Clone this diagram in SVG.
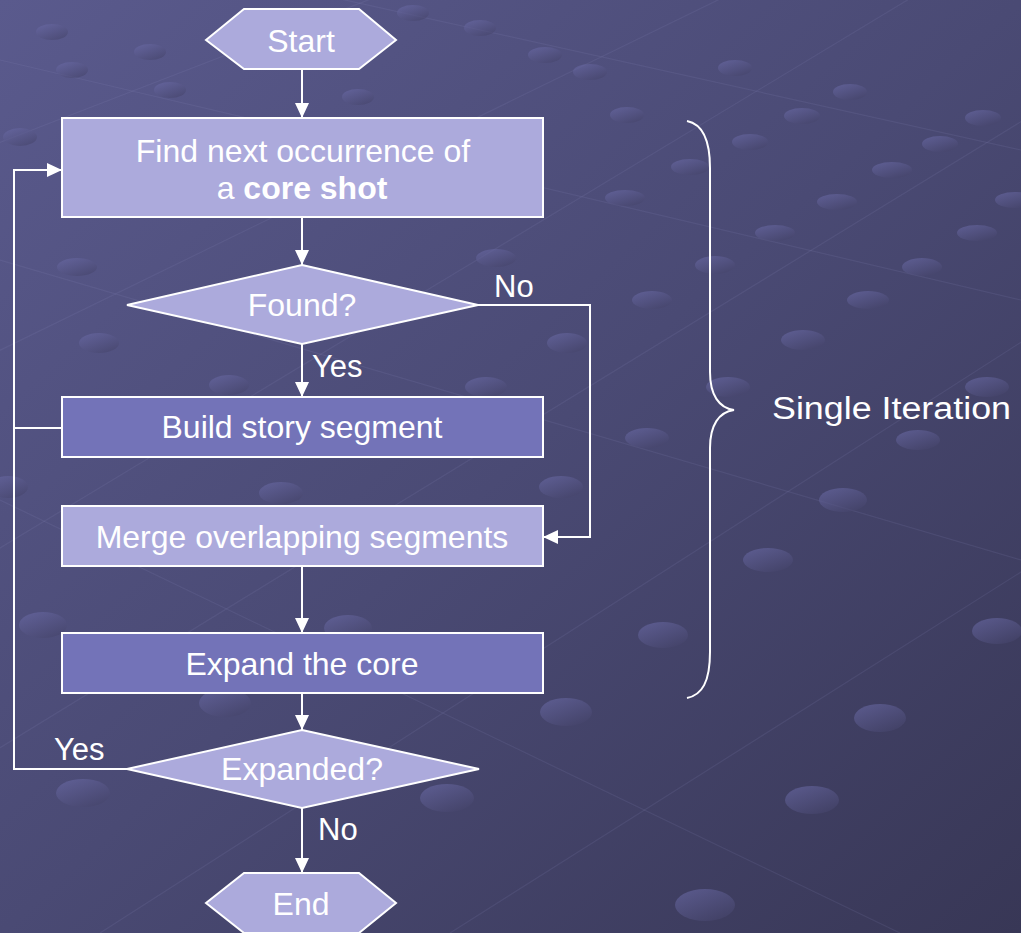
<svg xmlns="http://www.w3.org/2000/svg" width="1021" height="933" viewBox="0 0 1021 933">
<defs>
<linearGradient id="bg" x1="0" y1="0" x2="1" y2="1">
<stop offset="0" stop-color="#5a5a8d"/>
<stop offset="0.5" stop-color="#4a4a74"/>
<stop offset="1" stop-color="#383756"/>
</linearGradient>
<linearGradient id="dot" x1="0" y1="0" x2="0.7" y2="1">
<stop offset="0" stop-color="#6e6eac"/>
<stop offset="1" stop-color="#46456c"/>
</linearGradient>
<marker id="ah" markerUnits="userSpaceOnUse" markerWidth="16" markerHeight="14" refX="15" refY="7" orient="auto">
<path d="M0,0 L15,7 L0,14 z" fill="#ffffff"/>
</marker>
</defs>
<style>
.light{fill:#acaadc;stroke:#ffffff;stroke-width:2}
.dark{fill:#7373b8;stroke:#ffffff;stroke-width:2}
.t{font-family:"Liberation Sans",Arial,sans-serif;font-size:32px;fill:#ffffff;text-anchor:middle}
.lbl{font-family:"Liberation Sans",Arial,sans-serif;font-size:31px;fill:#ffffff}
.c{fill:none;stroke:#ffffff;stroke-width:2}
.d{fill:url(#dot);opacity:0.6}
.g{stroke:#8c8cc0;stroke-width:1.2;opacity:0.14;fill:none}
</style>
<rect x="0" y="0" width="1021" height="933" fill="url(#bg)"/>
<g id="background">
<path class="g" d="M-20,560 L1040,-80"/>
<path class="g" d="M-20,760 L1040,110"/>
<path class="g" d="M100,933 L1040,330"/>
<path class="g" d="M450,933 L1040,560"/>
<path class="g" d="M-20,360 L800,-40"/>
<path class="g" d="M-20,150 L420,-20"/>
<path class="g" d="M0,60 L1021,300"/>
<path class="g" d="M0,260 L1021,560"/>
<path class="g" d="M0,500 L900,933"/>
<path class="g" d="M300,-10 L1021,150"/>
<g>
<ellipse class="d" cx="52" cy="32" rx="16" ry="8"/>
<ellipse class="d" cx="150" cy="52" rx="16" ry="8"/>
<ellipse class="d" cx="72" cy="70" rx="16" ry="8"/>
<ellipse class="d" cx="170" cy="90" rx="16" ry="8"/>
<ellipse class="d" cx="20" cy="137" rx="17" ry="9"/>
<ellipse class="d" cx="358" cy="97" rx="16" ry="8"/>
<ellipse class="d" cx="413" cy="13" rx="16" ry="8"/>
<ellipse class="d" cx="480" cy="28" rx="16" ry="8"/>
<ellipse class="d" cx="545" cy="55" rx="17" ry="8"/>
<ellipse class="d" cx="590" cy="72" rx="17" ry="8"/>
<ellipse class="d" cx="627" cy="115" rx="17" ry="8"/>
<ellipse class="d" cx="735" cy="68" rx="17" ry="8"/>
<ellipse class="d" cx="850" cy="92" rx="17" ry="8"/>
<ellipse class="d" cx="802" cy="116" rx="18" ry="8"/>
<ellipse class="d" cx="983" cy="118" rx="18" ry="8"/>
<ellipse class="d" cx="750" cy="142" rx="18" ry="8"/>
<ellipse class="d" cx="940" cy="144" rx="18" ry="8"/>
<ellipse class="d" cx="690" cy="167" rx="19" ry="8"/>
<ellipse class="d" cx="892" cy="170" rx="20" ry="8"/>
<ellipse class="d" cx="625" cy="198" rx="20" ry="8"/>
<ellipse class="d" cx="837" cy="202" rx="20" ry="8"/>
<ellipse class="d" cx="1015" cy="200" rx="20" ry="8"/>
<ellipse class="d" cx="775" cy="233" rx="20" ry="8"/>
<ellipse class="d" cx="977" cy="233" rx="20" ry="8"/>
<ellipse class="d" cx="715" cy="265" rx="20" ry="9"/>
<ellipse class="d" cx="922" cy="267" rx="20" ry="9"/>
<ellipse class="d" cx="652" cy="300" rx="20" ry="9"/>
<ellipse class="d" cx="868" cy="300" rx="21" ry="9"/>
<ellipse class="d" cx="803" cy="340" rx="22" ry="10"/>
<ellipse class="d" cx="728" cy="387" rx="22" ry="10"/>
<ellipse class="d" cx="987" cy="387" rx="22" ry="10"/>
<ellipse class="d" cx="647" cy="438" rx="22" ry="10"/>
<ellipse class="d" cx="918" cy="440" rx="22" ry="10"/>
<ellipse class="d" cx="843" cy="500" rx="24" ry="12"/>
<ellipse class="d" cx="768" cy="560" rx="25" ry="12"/>
<ellipse class="d" cx="663" cy="635" rx="25" ry="13"/>
<ellipse class="d" cx="997" cy="631" rx="25" ry="13"/>
<ellipse class="d" cx="880" cy="718" rx="26" ry="14"/>
<ellipse class="d" cx="566" cy="712" rx="26" ry="14"/>
<ellipse class="d" cx="812" cy="800" rx="27" ry="14"/>
<ellipse class="d" cx="705" cy="905" rx="30" ry="16"/>
<ellipse class="d" cx="77" cy="267" rx="20" ry="9"/>
<ellipse class="d" cx="99" cy="343" rx="20" ry="10"/>
<ellipse class="d" cx="229" cy="385" rx="20" ry="10"/>
<ellipse class="d" cx="496" cy="258" rx="20" ry="9"/>
<ellipse class="d" cx="567" cy="343" rx="20" ry="10"/>
<ellipse class="d" cx="486" cy="387" rx="21" ry="10"/>
<ellipse class="d" cx="561" cy="487" rx="22" ry="11"/>
<ellipse class="d" cx="281" cy="493" rx="22" ry="11"/>
<ellipse class="d" cx="8" cy="487" rx="20" ry="11"/>
<ellipse class="d" cx="43" cy="625" rx="24" ry="13"/>
<ellipse class="d" cx="348" cy="628" rx="24" ry="13"/>
<ellipse class="d" cx="225" cy="703" rx="26" ry="14"/>
<ellipse class="d" cx="83" cy="793" rx="27" ry="14"/>
<ellipse class="d" cx="447" cy="798" rx="27" ry="14"/>
</g>
</g>
<g id="connectors">
<path class="c" d="M302,69 V118" marker-end="url(#ah)"/>
<path class="c" d="M302,218 V265" marker-end="url(#ah)"/>
<path class="c" d="M302,344 V397" marker-end="url(#ah)"/>
<path class="c" d="M478,305 H590 V537 H543" marker-end="url(#ah)"/>
<path class="c" d="M302,566 V633" marker-end="url(#ah)"/>
<path class="c" d="M302,693 V730" marker-end="url(#ah)"/>
<path class="c" d="M302,808 V873" marker-end="url(#ah)"/>
<path class="c" d="M127,769 H14 V170 H62" marker-end="url(#ah)"/>
<path class="c" d="M62,428 H14"/>
<text class="lbl" x="494" y="297">No</text>
<text class="lbl" x="312" y="377">Yes</text>
<text class="lbl" x="54" y="760">Yes</text>
<text class="lbl" x="318" y="840">No</text>
</g>
<g id="start">
<polygon class="light" points="206,40 244,9 359,9 396,40 359,69 244,69"/>
<text class="t" x="301" y="52">Start</text>
</g>
<g id="find">
<rect class="light" x="62" y="118" width="481" height="99"/>
<text class="t" x="303" y="162">Find next occurrence of</text>
<text class="t" x="302" y="199">a <tspan font-weight="bold">core shot</tspan></text>
</g>
<g id="found">
<polygon class="light" points="302,265 478,305 302,344 127,305"/>
<text class="t" x="302" y="316">Found?</text>
</g>
<g id="build">
<rect class="dark" x="62" y="397" width="481" height="60"/>
<text class="t" x="302" y="438">Build story segment</text>
</g>
<g id="merge">
<rect class="light" x="62" y="506" width="481" height="60"/>
<text class="t" x="302" y="548">Merge overlapping segments</text>
</g>
<g id="expand">
<rect class="dark" x="62" y="633" width="481" height="60"/>
<text class="t" x="302" y="675">Expand the core</text>
</g>
<g id="expanded">
<polygon class="light" points="302,730 479,769 302,808 127,769"/>
<text class="t" x="302" y="780">Expanded?</text>
</g>
<g id="end">
<polygon class="light" points="206,903 244,873 359,873 396,903 359,933 244,933"/>
<text class="t" x="301" y="915">End</text>
</g>
<g id="brace">
<path class="c" d="M687,121 C702,124 710,138 710,168 L710,372 C710,395 719,408 734,410 C719,412 710,425 710,448 L710,652 C710,682 702,695 687,698"/>
<text class="lbl" x="772" y="419" font-size="33" textLength="239" lengthAdjust="spacingAndGlyphs">Single Iteration</text>
</g>
</svg>
